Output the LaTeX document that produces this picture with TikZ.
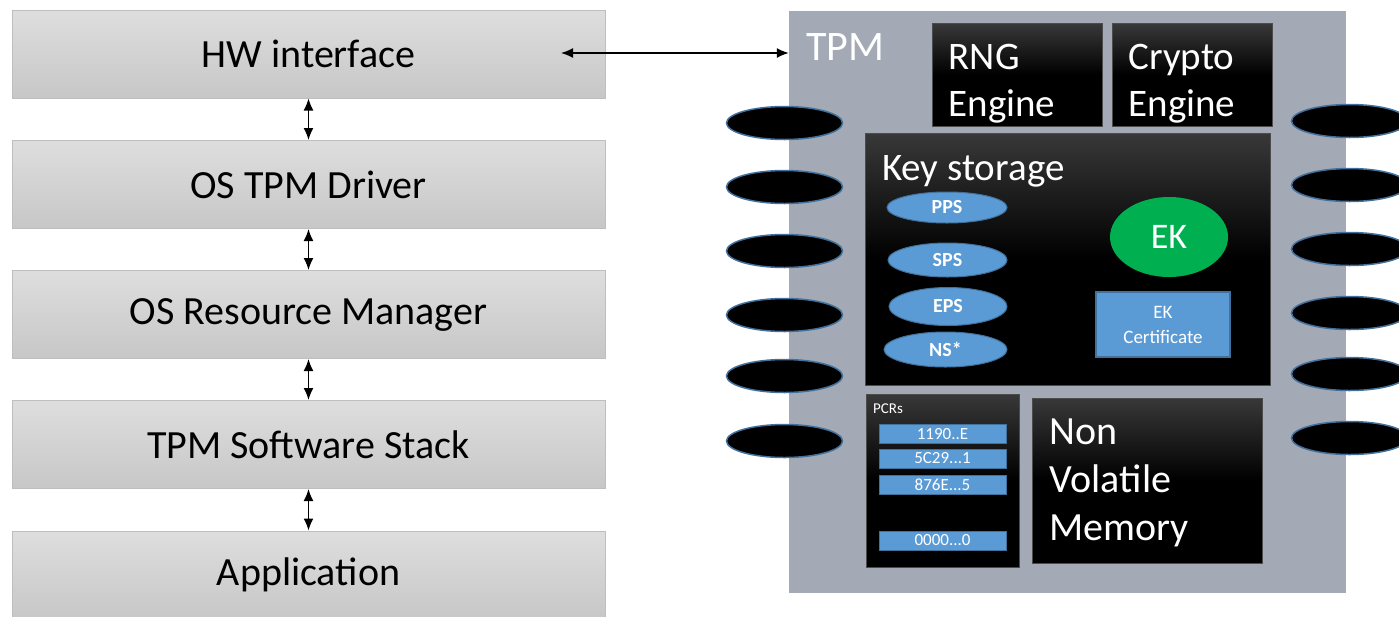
\documentclass[tikz,border=0pt]{standalone}
\usepackage{fontspec}
\setmainfont{Carlito}
\usetikzlibrary{shapes.geometric,arrows.meta}
\definecolor{tpmgray}{RGB}{163,170,181}
\definecolor{keyblue}{RGB}{91,155,213}
\definecolor{keyedge}{RGB}{65,113,156}
\definecolor{ekgreen}{RGB}{0,176,80}
\definecolor{layeredge}{RGB}{190,190,190}
\tikzset{
  layer/.style={draw=layeredge, line width=1pt, top color=black!13, bottom color=black!22,
    minimum width=593pt, minimum height=88pt, inner sep=0pt, font=\fontsize{40}{48}\selectfont},
  chip/.style={draw=black!70, line width=1pt, top color=black!78, bottom color=black,
    middle color=black, inner sep=0pt},
  chiptext/.style={anchor=west, inner sep=0pt, text=white, align=left, font=\fontsize{39}{47}\selectfont},
  pin/.style={ellipse, draw=keyedge, line width=1.5pt, fill=black,
    minimum width=116pt, minimum height=33pt, inner sep=0pt},
  hier/.style={ellipse, draw=keyedge, line width=1pt, fill=keyblue, text=white,
    inner sep=0pt, font=\bfseries\fontsize{20}{24}\selectfont},
  pcr/.style={draw=keyedge, line width=1pt, fill=keyblue, text=white, minimum width=127pt,
    minimum height=19pt, inner sep=0pt, font=\fontsize{17}{20}\selectfont},
  link/.style={line width=1.5pt, {Latex[length=12pt,width=10pt]}-{Latex[length=12pt,width=10pt]}},
}
\begin{document}
\begin{tikzpicture}[x=1pt,y=-1pt]
\useasboundingbox (0,0) rectangle (1399,616);
% software stack
\node[layer] (hw) at (308.5,54) {HW interface};
\node[layer] (drv) at (308.5,184.5) {OS TPM Driver};
\node[layer] (rm) at (308.5,314.5) {OS Resource Manager};
\node[layer] (tss) at (308.5,444.5) {TPM Software Stack};
\node[layer] (app) at (308.5,575) {Application};
\draw[link] (hw) -- (drv);
\draw[link] (drv) -- (rm);
\draw[link] (rm) -- (tss);
\draw[link] (tss) -- (app);
% the chip
\node[fill=tpmgray, minimum width=557pt, minimum height=582pt, inner sep=0pt] (tpm) at (1067.5,302) {};
\node[anchor=base west, inner sep=0pt, text=white, font=\fontsize{42}{50}\selectfont] (tpmname) at (806,60) {TPM};
\coordinate (hwport) at (561,53);
\draw[link] (hwport) -- (hwport -| tpm.west);
% pins
\node[pin] (pinl1) at (784.5,123) {};
\node[pin] (pinl2) at (784.5,187) {};
\node[pin] (pinl3) at (784.5,251) {};
\node[pin] (pinl4) at (784.5,315) {};
\node[pin] (pinl5) at (784.5,376) {};
\node[pin] (pinl6) at (784.5,441) {};
\node[pin] (pinr1) at (1349.5,121) {};
\node[pin] (pinr2) at (1349.5,185) {};
\node[pin] (pinr3) at (1349.5,249) {};
\node[pin] (pinr4) at (1349.5,313) {};
\node[pin] (pinr5) at (1349.5,374) {};
\node[pin] (pinr6) at (1349.5,438) {};
% engines
\node[chip, minimum width=170pt, minimum height=103pt] (rng) at (1017,75) {};
\node[chiptext] (rngtext) at ([xshift=17pt,yshift=-9pt]rng.west) {RNG\\Engine};
\node[chip, minimum width=160pt, minimum height=103pt] (crypto) at (1192,75) {};
\node[chiptext] (cryptotext) at ([xshift=17pt,yshift=-9pt]crypto.west) {Crypto\\Engine};
% key storage
\node[chip, minimum width=405pt, minimum height=252pt] (keys) at (1067.5,259) {};
\node[anchor=base west, inner sep=0pt, text=white, font=\fontsize{39}{47}\selectfont] (keystitle) at (882,180) {Key storage};
\node[hier, minimum width=120pt, minimum height=31pt] (pps) at (947,207.5) {PPS};
\node[hier, minimum width=119pt, minimum height=34pt] (sps) at (947.5,260) {SPS};
\node[hier, minimum width=118pt, minimum height=38pt] (eps) at (948,306.5) {EPS};
\node[hier, minimum width=123pt, minimum height=35pt] (ns) at (945.5,349.5) {NS*};
\node[ellipse, fill=ekgreen, text=white, minimum width=118pt, minimum height=80pt, inner sep=0pt,
  font=\fontsize{36}{42}\selectfont] (ek) at (1169,237) {EK};
\node[draw=keyedge, line width=1.5pt, fill=keyblue, text=white, align=center, minimum width=134pt,
  minimum height=65pt, inner sep=0pt, font=\fontsize{19}{25}\selectfont] (ekcert) at (1163,324.5) {EK\\Certificate};
% PCRs
\node[chip, minimum width=153pt, minimum height=173pt] (pcrs) at (942.5,480.5) {};
\node[anchor=base west, inner sep=0pt, text=white, font=\fontsize{15}{18}\selectfont] (pcrstitle) at (873,413) {PCRs};
\node[pcr] (pcr0) at (942.5,434) {1190..E};
\node[pcr] (pcr1) at (942.5,458.5) {5C29...1};
\node[pcr] (pcr2) at (942.5,484.5) {876E...5};
\node[pcr] (pcr3) at (942.5,540.5) {0000...0};
% non volatile memory
\node[chip, minimum width=230pt, minimum height=165pt] (nvm) at (1147,480.5) {};
\node[chiptext, font=\fontsize{40}{48}\selectfont] (nvmtext) at ([xshift=18pt,yshift=-2pt]nvm.west) {Non\\Volatile\\Memory};
\end{tikzpicture}
\end{document}
